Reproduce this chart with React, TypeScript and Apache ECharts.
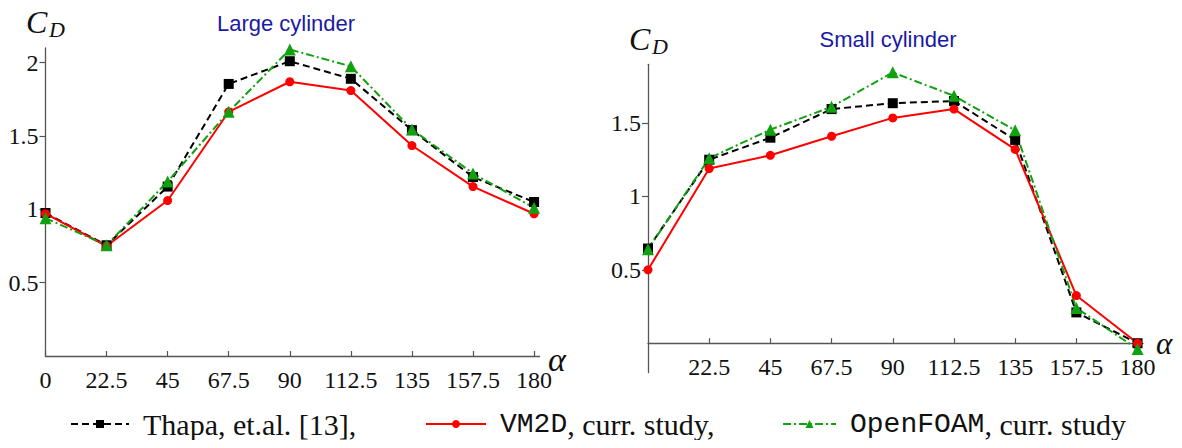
import React, { useEffect, useRef } from "react";
import * as echarts from "echarts";

const angles = [0, 22.5, 45, 67.5, 90, 112.5, 135, 157.5, 180];
const xTickLabelsLarge = [0, 22.5, 45, 67.5, 90, 112.5, 135, 157.5, 180];
const xTickLabelsSmall = [22.5, 45, 67.5, 90, 112.5, 135, 157.5, 180];
const yTickLabelsLarge = [0.5, 1, 1.5, 2];
const yTickLabelsSmall = [0.5, 1, 1.5];

const largeThapa = [0.975, 0.755, 1.155, 1.855, 2.01, 1.89, 1.54, 1.22, 1.05];
const largeVM2D = [0.97, 0.75, 1.06, 1.665, 1.87, 1.81, 1.435, 1.155, 0.97];
const largeOpenFOAM = [0.94, 0.755, 1.19, 1.665, 2.09, 1.975, 1.545, 1.245, 1.01];

const smallThapa = [0.645, 1.25, 1.4, 1.595, 1.635, 1.65, 1.385, 0.21, 0.0];
const smallVM2D = [0.5, 1.19, 1.28, 1.41, 1.535, 1.595, 1.32, 0.325, 0.0];
const smallOpenFOAM = [0.64, 1.26, 1.455, 1.61, 1.845, 1.685, 1.45, 0.24, -0.04];

const AXIS_COLOR = "#555";
const LABEL_COLOR = "#111";
const SERIF = "'Liberation Serif', 'Times New Roman', serif";
const MONO = "'Liberation Mono', 'DejaVu Sans Mono', monospace";
const GREEN = "#10a010";

const pairs = (vals: number[]) => angles.map((a, i) => [a, vals[i]]);

const styleThapa = {
  name: "Thapa",
  color: "#000",
  lineStyle: { width: 2, type: [7, 4], color: "#000" },
  symbol: "rect",
  symbolSize: 10,
};
const styleVM2D = {
  name: "VM2D",
  color: "#ff0000",
  lineStyle: { width: 2, type: "solid", color: "#ff0000" },
  symbol: "circle",
  symbolSize: 9,
};
const styleOF = {
  name: "OpenFOAM",
  color: GREEN,
  lineStyle: { width: 2, type: [8, 3, 2, 3], color: GREEN },
  symbol: "triangle",
  symbolSize: 12,
};

function mkSeries(style: any, vals: number[], idx: number) {
  return {
    type: "line",
    name: style.name,
    xAxisIndex: idx,
    yAxisIndex: idx,
    data: pairs(vals),
    symbol: style.symbol,
    symbolSize: style.symbolSize,
    itemStyle: { color: style.color },
    lineStyle: style.lineStyle,
    showAllSymbol: true,
  };
}

function xAxisCfg(idx: number, labels: number[], offset: number) {
  return {
    type: "value",
    gridIndex: idx,
    min: 0,
    max: 182,
    offset,
    splitLine: { show: false },
    axisLine: { show: true, onZero: false, lineStyle: { color: AXIS_COLOR, width: 1.3 } },
    axisTick: {
      show: true,
      inside: true,
      length: 5,
      customValues: labels,
      lineStyle: { color: AXIS_COLOR, width: 1.2 },
    },
    axisLabel: {
      customValues: labels,
      margin: 12,
      color: LABEL_COLOR,
      fontFamily: SERIF,
      fontSize: 24,
      formatter: (v: number) => String(v),
    },
  };
}

function yAxisCfg(idx: number, min: number, max: number, labels: number[]) {
  return {
    type: "value",
    gridIndex: idx,
    min,
    max,
    splitLine: { show: false },
    axisLine: { show: true, onZero: false, lineStyle: { color: AXIS_COLOR, width: 1.3 } },
    axisTick: {
      show: true,
      inside: false,
      length: 6,
      customValues: labels,
      lineStyle: { color: AXIS_COLOR, width: 1.2 },
    },
    axisLabel: {
      customValues: labels,
      margin: 7,
      color: LABEL_COLOR,
      fontFamily: SERIF,
      fontSize: 24,
      formatter: (v: number) => String(v),
    },
  };
}

const legendText = {
  fontFamily: SERIF,
  fontSize: 30,
  color: LABEL_COLOR,
  padding: [0, 0, 0, 9],
  rich: {
    t: { fontFamily: SERIF, fontSize: 30, color: LABEL_COLOR },
    m: { fontFamily: MONO, fontSize: 28, color: LABEL_COLOR },
  },
};

function legendCfg(name: string, left: number, width: number, fmt: string) {
  return {
    data: [name],
    left,
    top: 409,
    padding: 0,
    itemWidth: width,
    itemHeight: 10,
    textStyle: legendText,
    formatter: () => fmt,
    selectedMode: false,
  };
}

function serifText(text: string, x: number, y: number, size: number) {
  return {
    type: "text",
    x,
    y,
    style: {
      text,
      fontFamily: SERIF,
      fontStyle: "italic",
      fontSize: size,
      fill: LABEL_COLOR,
      textVerticalAlign: "middle",
    },
  };
}

function cdLabel(x: number, y: number) {
  return [serifText("C", x, y, 32), serifText("D", x + 23, y + 7, 22)];
}

function titleLabel(text: string, x: number, y: number) {
  return {
    type: "text",
    x,
    y,
    style: {
      text,
      fontFamily: "'Liberation Sans', Arial, sans-serif",
      fontSize: 22,
      fill: "#1a1aa6",
      textAlign: "center",
      textVerticalAlign: "middle",
    },
  };
}

export default function App() {
  const ref = useRef<HTMLDivElement>(null);
  useEffect(() => {
    if (!ref.current) return;
    const chart = echarts.init(ref.current, undefined, { renderer: "svg" });
    chart.setOption({
      animation: false,
      backgroundColor: "#fff",
      grid: [
        { left: 45.5, top: 48, width: 494, height: 308 },
        { left: 648, top: 64.3, width: 495, height: 308.3 },
      ],
      xAxis: [xAxisCfg(0, xTickLabelsLarge, 0), xAxisCfg(1, xTickLabelsSmall, -29.4)],
      yAxis: [
        yAxisCfg(0, 0, 2.1, yTickLabelsLarge),
        yAxisCfg(1, -0.2, 1.9, yTickLabelsSmall),
      ],
      legend: [
        legendCfg("Thapa", 70, 58, "{t|Thapa, et.al. [13],}"),
        legendCfg("VM2D", 425, 60, "{m|VM2D}{t|, curr. study,}"),
        legendCfg("OpenFOAM", 782, 53, "{m|OpenFOAM}{t|, curr. study}"),
      ],
      series: [
        mkSeries(styleThapa, largeThapa, 0),
        mkSeries(styleVM2D, largeVM2D, 0),
        mkSeries(styleOF, largeOpenFOAM, 0),
        mkSeries(styleThapa, smallThapa, 1),
        mkSeries(styleVM2D, smallVM2D, 1),
        mkSeries(styleOF, smallOpenFOAM, 1),
      ],
      graphic: [
        ...cdLabel(26, 22),
        ...cdLabel(629, 39),
        serifText("α", 548, 359, 34),
        serifText("α", 1156, 343, 31),
        titleLabel("Large cylinder", 286, 23),
        titleLabel("Small cylinder", 888, 39),
      ],
    });
    return () => chart.dispose();
  }, []);
  return <div ref={ref} style={{ width: 1182, height: 448, margin: -8 }} />;
}
